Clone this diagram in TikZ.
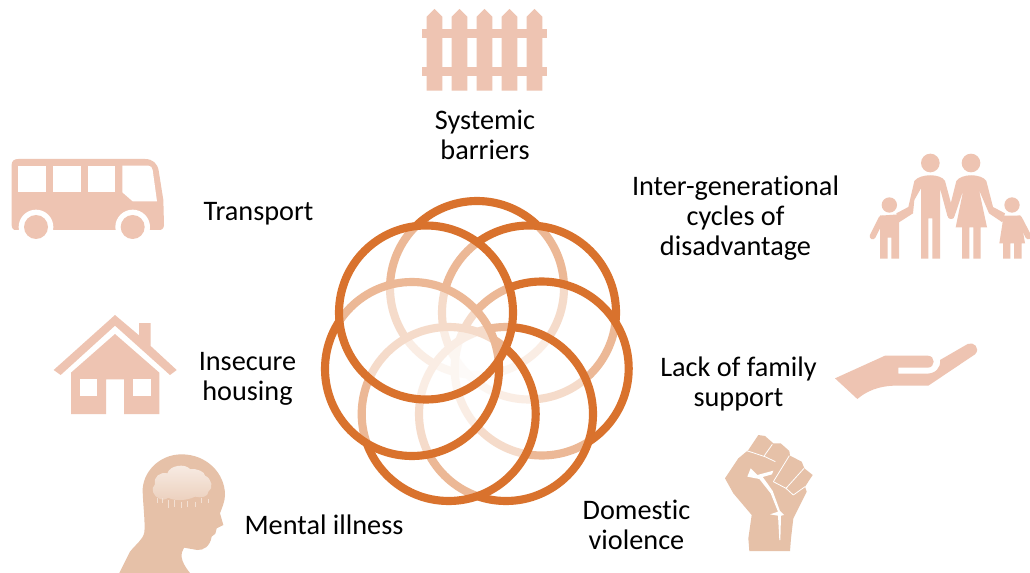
\documentclass[tikz,border=0pt]{standalone}
\usepackage{fontspec}
\setmainfont[Ligatures=NoCommon]{Carlito}
\definecolor{ringc}{HTML}{D9722D}
\definecolor{iconc}{HTML}{EEC4B2}
\definecolor{skinc}{HTML}{E6C1A8}
\tikzset{
  ring/.style={draw=ringc,line width=6.1pt,fill=white,fill opacity=0.5,draw opacity=1},
  lbl/.style={align=center,font=\fontsize{21.2}{22.5}\selectfont,text=black,inner sep=0pt},
  zoomed/.style={x=0.25pt,y=-0.25pt},
  icon/.style={fill=iconc,draw=none},
  hole/.style={fill=white,draw=none},
  limb/.style={draw=iconc,line width=4.5pt,line cap=round,line join=round},
}
\begin{document}
\begin{tikzpicture}[x=0.75pt,y=-0.75pt]
\useasboundingbox (0,0) rectangle (1030,573);
\fill[white] (0,0) rectangle (1030,573);
% rings, stacked back to front
\path[ring] (477,288) circle (87);
\path[ring] (529,312.5) circle (87);
\path[ring] (541.7,368.5) circle (87);
\path[ring] (506,414) circle (87);
\path[ring] (448.7,414) circle (87);
\path[ring] (412,369) circle (87);
\path[ring] (426,312.5) circle (87);
% labels
\node[lbl] (sys) at (485,135) {Systemic\\barriers};
\node[lbl] (tra) at (258.5,213.5) {Transport};
\node[lbl] (int) at (735.5,218.5) {Inter-generational\\cycles of\\disadvantage};
\node[lbl] (ins) at (247.5,378.5) {Insecure\\housing};
\node[lbl] (lac) at (738.5,383.5) {Lack of family\\support};
\node[lbl] (men) at (324,525) {Mental illness};
\node[lbl] (dom) at (636.5,525) {Domestic\\violence};
% fence
\begin{scope}[shift={(410,0)},zoomed]
  \foreach \a in {50,125,200,275,350}{
    \fill[icon] (\a,272) -- (\a,50) -- (\a+23.5,27) -- (\a+47,50) -- (\a+47,272) -- cycle;
  }
  \fill[icon] (37,87) rectangle (410,113);
  \fill[icon] (37,201) rectangle (410,227);
\end{scope}
% bus and house
\begin{scope}[shift={(0,150)},zoomed]
  \fill[icon] (35,45) .. controls (35,33) and (42,27) .. (55,27) -- (435,27)
     .. controls (458,27) and (472,40) .. (476,62) -- (490,150) -- (492,225)
     .. controls (492,235) and (485,241) .. (475,241) -- (50,241)
     .. controls (40,241) and (35,235) .. (35,225) -- cycle;
  \fill[hole] (108,231) circle (52);
  \fill[hole] (398,231) circle (52);
  \fill[hole] (20,241) rectangle (510,290);
  \fill[icon] (108,231) circle (36);
  \fill[icon] (398,231) circle (36);
  \fill[hole] (55,47) rectangle (138,125);
  \fill[hole] (159,47) rectangle (242,125);
  \fill[hole] (263,47) rectangle (346,125);
  \fill[hole] (367,47) -- (445,47) .. controls (452,47) and (457,52) .. (458,60)
     -- (471,154) -- (398,154) -- (367,127) -- cycle;
  % house
  \fill[icon] (345,495) -- (417,556) -- (417,519) -- (452,519) -- (452,588)
     -- (530,660) -- (510,675) -- (345,527) -- (182,675) -- (161,660) -- cycle;
  \fill[icon] (345,552) -- (478,668) -- (478,792) -- (372,792) -- (372,688)
     -- (318,688) -- (318,792) -- (213,792) -- (213,668) -- cycle;
  \fill[hole] (239,688) rectangle (292,738);
  \fill[hole] (399,688) rectangle (452,738);
\end{scope}
% head
\begin{scope}[shift={(110,445)},zoomed]
  \fill[skinc] (28,384) -- (60,320) .. controls (80,295) and (98,285) .. (103,262)
     .. controls (106,235) and (100,190) .. (98,140)
     .. controls (96,85) and (145,28) .. (215,28)
     .. controls (290,28) and (345,85) .. (345,150)
     .. controls (345,170) and (335,190) .. (330,205)
     -- (340,240) -- (320,250) -- (316,266) -- (305,275)
     .. controls (300,305) and (280,316) .. (262,315)
     -- (222,308) .. controls (212,325) and (208,345) .. (240,384) -- cycle;
  \shade[top color=white!70!skinc,bottom color=white!25!skinc]
     (150,162) .. controls (130,155) and (120,130) .. (135,118)
     .. controls (130,95) and (150,80) .. (172,85)
     .. controls (180,60) and (225,55) .. (240,72)
     .. controls (260,70) and (285,80) .. (285,92)
     .. controls (305,100) and (312,130) .. (295,140)
     .. controls (295,155) and (275,160) .. (255,155)
     .. controls (230,168) and (190,168) .. (175,158)
     .. controls (165,165) and (155,165) .. (150,162) -- cycle;
  \foreach \a/\b/\c in {143/160/173,158/160/173,174/165/188,193/165/185,214/170/188,232/168/187,256/170/185,275/158/175,294/163/173}{
    \draw[white!50!skinc,line width=0.75pt] (\a,\b) -- (\a,\c);
  }
\end{scope}
% fist
\begin{scope}[shift={(710,425)},zoomed]
  \fill[skinc] (45,160) -- (85,100) -- (115,75) -- (145,30) -- (165,33) -- (190,55)
     -- (212,55) -- (238,78) -- (240,92) -- (275,110) -- (283,130) -- (308,150)
     -- (285,185) -- (290,200) -- (250,280) -- (243,340) -- (240,378) -- (118,378)
     -- (115,340) -- (125,270) -- (70,205) -- cycle;
  \foreach \p/\q in {{(187,58)}/{(163,92)},{(238,92)}/{(190,170)},{(282,130)}/{(228,190)},{(110,77)}/{(165,95)},{(165,95)}/{(196,110)},{(228,190)}/{(250,210)},{(250,210)}/{(285,185)},{(190,170)}/{(228,190)}}{
    \draw[white,line width=0.6pt] \p -- \q;
  }
  \fill[white] (122,130) -- (142,150) -- (190,137) -- (186,148) -- (158,156) -- (172,175)
     -- (188,198) -- (210,258) -- (222,270) -- (213,272) -- (211,345) -- (208,345)
     -- (204,272) -- (180,268) -- (204,260) -- (182,205) -- (148,162) -- (112,155) -- cycle;
\end{scope}
% family and hand
\begin{scope}[shift={(825,145)},zoomed]
  \clip (0,-10) rectangle (615,800);
  \fill[icon] (316,54) circle (28);
  \fill[icon] (438,54) circle (28);
  \fill[icon] (193,180) circle (23);
  \fill[icon] (561,180) circle (23);
  % father
  \fill[icon] (288,341) -- (288,130) -- (268,165) -- (264,205) -- (222,232) -- (214,205)
     -- (250,186) -- (268,108) .. controls (285,85) and (348,85) .. (360,108)
     -- (388,212) .. controls (390,225) and (370,225) .. (367,212) -- (345,130)
     -- (345,341) -- (322,341) -- (322,220) -- (310,220) -- (310,341) -- cycle;
  % mother
  \fill[icon] (392,247) -- (415,135) -- (389,212) .. controls (386,225) and (368,225) .. (368,212)
     -- (394,108) .. controls (410,85) and (468,85) .. (484,108)
     -- (504,186) -- (540,205) -- (532,232) -- (492,205) -- (462,135) -- (486,247) -- (467,247)
     -- (467,341) -- (445,341) -- (445,247)
     -- (433,247) -- (433,341) -- (411,341) -- (411,247) -- cycle;
  % boy
  \fill[icon] (165,341) -- (165,212) -- (222,208) -- (222,341) -- (199,341) -- (199,278)
     -- (188,278) -- (188,341) -- cycle;
  \draw[limb] (170,220) -- (143,274);
  % girl
  \fill[icon] (523,295) -- (536,212) -- (586,212) -- (600,295) -- (590,295) -- (590,341)
     -- (567,341) -- (567,295) -- (556,295) -- (556,341) -- (534,341) -- (534,295) -- cycle;
  \draw[limb] (582,220) -- (610,274);
  % hand
  \fill[icon] (30,700) -- (180,632) -- (308,632) .. controls (332,632) and (332,668) .. (308,668)
     -- (220,668) -- (220,686) -- (305,686) .. controls (330,686) and (348,670) .. (345,645)
     -- (428,597) .. controls (445,588) and (468,610) .. (450,628)
     -- (310,722) -- (205,722) .. controls (160,724) and (125,738) .. (97,762) -- cycle;
\end{scope}
\end{tikzpicture}
\end{document}
